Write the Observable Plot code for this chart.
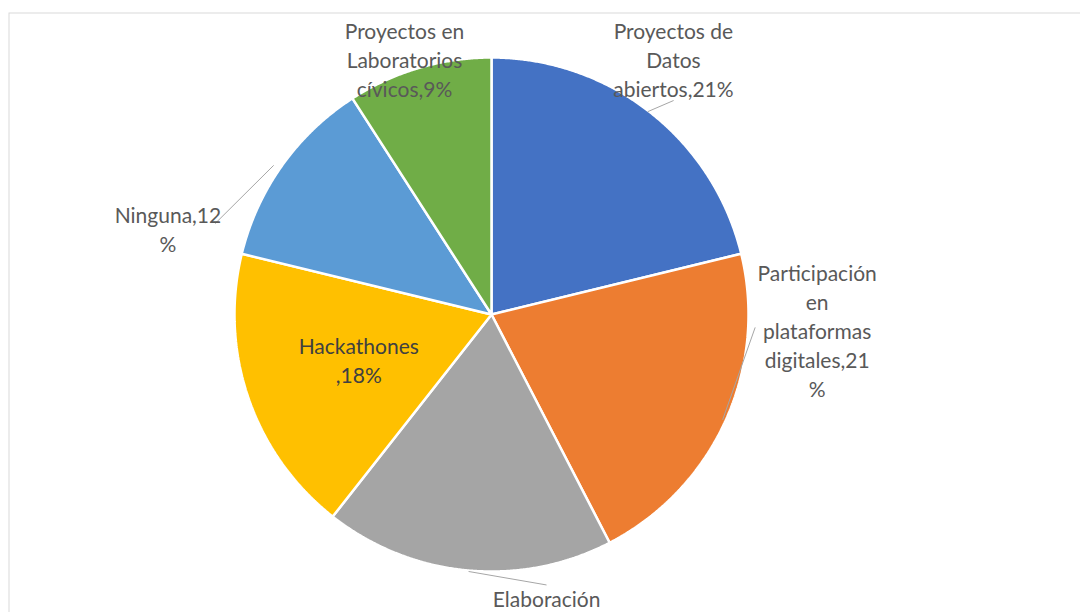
<!DOCTYPE html>
<html>
<head>
<meta charset="utf-8">
<script src="https://cdn.jsdelivr.net/npm/d3@7"></script>
<script src="https://cdn.jsdelivr.net/npm/@observablehq/plot@0.6"></script>
<style>
  html, body { margin: 0; padding: 0; background: #fff; overflow: hidden; }
  #chart svg { display: block; }
</style>
</head>
<body>
<div id="chart"></div>
<script>
// ---- Data ----
const categories = [
  "Proyectos de Datos abiertos",
  "Participación en plataformas digitales",
  "Elaboración",
  "Hackathones",
  "Ninguna",
  "Proyectos en Laboratorios cívicos"
];
// shares (%)
const values = [21.2, 21.2, 18.2, 18.2, 12.1, 9.1];
const labelTexts = [
  "Proyectos de\nDatos\nabiertos,21%",
  "Participación\nen\nplataformas\ndigitales,21\n%",
  "Elaboración",
  "Hackathones\n,18%",
  "Ninguna,12\n%",
  "Proyectos en\nLaboratorios\ncívicos,9%"
];

// ---- Styles / layout ----
const colors = ["#4472C4", "#ED7D31", "#A5A5A5", "#FFC000", "#5B9BD5", "#70AD47"];
const textColors = ["#595959", "#595959", "#595959", "#404040", "#595959", "#595959"];
const R = 257;                       // pie radius (px units)
const cx = 491, cy = 314;            // pie centre in the picture
const W = 1080, H = 612;
// label centre in polar form (degrees clockwise from top, distance from centre)
const labelAngleDeg = [35.4, 92.6, 169.0, 251.5, 285.0, 341.2];
const labelDist     = [314, 326, 289, 140, 335, 270];
// leader lines in polar form (null = no leader)
const leaderStartDeg  = [37.6, 114.5, 185.1, null, 304.4, null];
const leaderStartDist = [256, 254, 258, null, 264, null];
const leaderEndDeg    = [40.4, 92.8, 168.5, null, 288.2, null];
const leaderEndDist   = [281, 264, 276, null, 291, null];

// ---- Build geometry through d3.pie ----
const rows = categories.map((c, i) => ({category: c, value: values[i], i}));
const arcs = d3.pie().sort(null).value(d => d.value)(rows);
const polar = (angRad, r) => ({x: r * Math.sin(angRad), y: r * Math.cos(angRad)});
const rad = d => d * Math.PI / 180;

const slicePts = [];
for (const a of arcs) {
  const n = Math.max(2, Math.ceil((a.endAngle - a.startAngle) / 0.005));
  slicePts.push({category: a.data.category, x: 0, y: 0});
  for (let k = 0; k <= n; k++) {
    const t = a.startAngle + (a.endAngle - a.startAngle) * k / n;
    slicePts.push({category: a.data.category, ...polar(t, R)});
  }
}

const labels = rows.map((d, i) => ({
  text: labelTexts[i],
  fill: textColors[i],
  ...polar(rad(labelAngleDeg[i]), labelDist[i])
}));

const leaders = [];
rows.forEach((d, i) => {
  if (leaderEndDeg[i] == null) return;
  const s = polar(rad(leaderStartDeg[i]), leaderStartDist[i]);
  const e = polar(rad(leaderEndDeg[i]), leaderEndDist[i]);
  leaders.push({x1: s.x, y1: s.y, x2: e.x, y2: e.y});
});

const chart = Plot.plot({
  width: W,
  height: H,
  margin: 0,
  style: {background: "#fff", overflow: "hidden"},
  x: {domain: [-cx, W - cx], axis: null},
  y: {domain: [-(H - cy), cy], axis: null},
  color: {domain: categories, range: colors},
  marks: [
    Plot.frame({stroke: "#d9d9d9", strokeWidth: 1, insetLeft: 8.5, insetTop: 12.5, insetRight: -10, insetBottom: -10}),
    Plot.line(slicePts, {
      x: "x", y: "y", z: "category", fill: "category",
      stroke: "white", strokeWidth: 2.5, strokeLinejoin: "miter",
      curve: "linear-closed"
    }),
    Plot.link(leaders, {x1: "x1", y1: "y1", x2: "x2", y2: "y2", stroke: "#a6a6a6", strokeWidth: 1}),
    Plot.text(labels, {
      x: "x", y: "y", text: "text", fill: "fill",
      fontFamily: "Lato, 'Open Sans', sans-serif", fontSize: 21,
      lineHeight: 1.38, textAnchor: "middle", lineAnchor: "middle"
    })
  ]
});
document.getElementById("chart").appendChild(chart);
</script>
</body>
</html>
